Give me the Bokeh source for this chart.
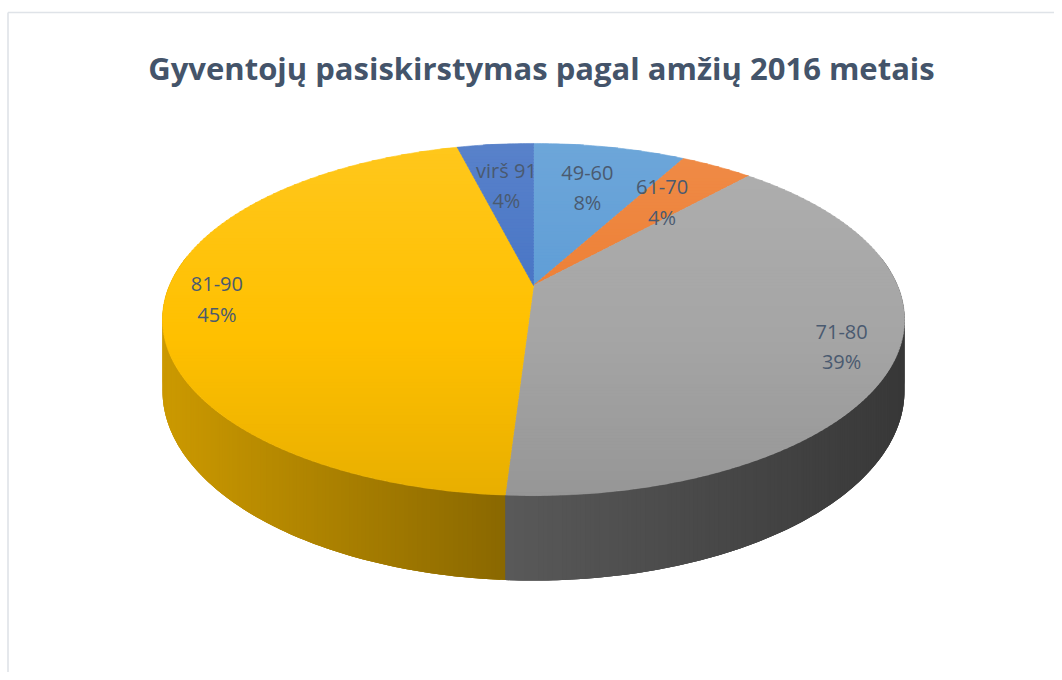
import numpy as np
from bokeh.plotting import figure
from bokeh.models import Range1d, ColumnDataSource, Label
from bokeh.core.properties import value
from bokeh.embed import file_html
from bokeh.resources import INLINE

# ---------------- data ----------------
title_text = "Gyventojų pasiskirstymas pagal amžių 2016 metais"
categories = ["49-60", "61-70", "71-80", "81-90", "virš 91"]
shares = [8.0, 3.8, 39.2, 45.0, 4.0]
base_colors = ["#5B9BD5", "#ED7D31", "#A5A5A5", "#FFC000", "#4472C4"]

# ---------------- layout constants ----------------
W, H = 1054, 672
CX, CY = 533.0, 285.0      # projected pie centre (px)
A, C = -114.4, 0.1932      # perspective terms (depth axis)
S = 364.0                  # horizontal radius scale
DEPTH = 68.6               # pie thickness
FONT = "Open Sans"

def hex2rgb(h):
    h = h.lstrip("#")
    return np.array([int(h[i:i + 2], 16) for i in (0, 2, 4)], dtype=float)

def rgb2hex(c):
    c = np.clip(np.round(c), 0, 255).astype(int)
    return "#%02x%02x%02x" % tuple(c)

def proj(theta, r=1.0):
    u = r * np.sin(theta)
    v = r * np.cos(theta)
    den = 1.0 + C * v
    return CX + S * u / den, (CY + A * v) / den, den

def clip_band(poly, y0, y1):
    def clip(pts, keep, inter):
        out = []
        n = len(pts)
        for i in range(n):
            p1 = pts[i]
            p2 = pts[(i + 1) % n]
            k1, k2 = keep(p1), keep(p2)
            if k1:
                out.append(p1)
                if not k2:
                    out.append(inter(p1, p2))
            elif k2:
                out.append(inter(p1, p2))
        return out

    def inter_y(yy):
        def f(p1, p2):
            t = (yy - p1[1]) / (p2[1] - p1[1])
            return (p1[0] + t * (p2[0] - p1[0]), yy)
        return f

    pts = clip(poly, lambda p: p[1] >= y0, inter_y(y0))
    if not pts:
        return []
    pts = clip(pts, lambda p: p[1] <= y1, inter_y(y1))
    return pts

# ---------------- figure ----------------
p = figure(width=W, height=H, x_range=Range1d(0, W), y_range=Range1d(H, 0),
           output_backend="svg", toolbar_location=None, min_border=0)
p.axis.visible = False
p.grid.visible = False
p.outline_line_color = None
p.background_fill_color = "white"
p.border_fill_color = "white"

# chart border
p.line([7.5, W], [12, 12], line_color="#dfe3e8", line_width=1.6)
p.line([7.5, 7.5], [12, H], line_color="#dfe3e8", line_width=1.6)

fr = np.array(shares) / sum(shares)
starts = np.concatenate([[0], np.cumsum(fr)[:-1]]) * 2 * np.pi
ends = np.cumsum(fr) * 2 * np.pi

# ---------------- side walls ----------------
def wall_shade(x):
    return np.interp(x, [161, 505, 903], [0.80, 0.54, 0.34])

under = dict(xs=[], ys=[], c=[])
wall = dict(xs=[], ys=[], c=[])
for i in range(len(shares)):
    base = hex2rgb(base_colors[i])
    a0, a1 = starts[i], ends[i]
    lo, hi = max(a0, np.radians(80)), min(a1, np.radians(280))
    if hi <= lo:
        continue
    n = max(2, int(np.degrees(hi - lo) / 0.6) + 1)
    ts = np.linspace(lo, hi, n)
    tx, ty, td = proj(ts)
    bx, by = tx, ty + DEPTH / td
    under["xs"].append(list(tx) + list(bx[::-1]))
    under["ys"].append(list(ty) + list(by[::-1]))
    under["c"].append(rgb2hex(base * wall_shade(float(np.mean(tx)))))
    for j in range(n - 1):
        k2 = min(j + 2, n - 1)          # overlap into the next strip to hide seams
        xs = [tx[j], tx[k2], bx[k2], bx[j]]
        ys = [ty[j], ty[k2], by[k2], by[j]]
        wall["xs"].append(xs)
        wall["ys"].append(ys)
        wall["c"].append(rgb2hex(base * wall_shade((tx[j] + tx[j + 1]) / 2)))
p.patches("xs", "ys", source=ColumnDataSource(under), fill_color="c", line_color=None)
p.patches("xs", "ys", source=ColumnDataSource(wall), fill_color="c", line_color=None)

# ---------------- top faces with vertical gradient ----------------
def top_color(base, y):
    L = np.interp(y, [143, 495], [0.11, -0.09])
    if L >= 0:
        return base + (255 - base) * L
    return base * (1 + L)

top = dict(xs=[], ys=[], c=[])
for i in range(len(shares)):
    base = hex2rgb(base_colors[i])
    n = max(3, int(np.degrees(ends[i] - starts[i]) / 0.5) + 1)
    ts = np.linspace(starts[i], ends[i], n)
    ax, ay, _ = proj(ts)
    poly = [(CX, CY)] + list(zip(ax, ay))
    ymin = min(pt[1] for pt in poly)
    ymax = max(pt[1] for pt in poly)
    y = np.floor(ymin) - 1
    step = 3.0
    while y < ymax + 1:
        band = clip_band(poly, y, y + step + 0.6)
        if len(band) >= 3:
            top["xs"].append([pt[0] for pt in band])
            top["ys"].append([pt[1] for pt in band])
            top["c"].append(rgb2hex(top_color(base, y + step / 2)))
        y += step
p.patches("xs", "ys", source=ColumnDataSource(top), fill_color="c", line_color="c", line_width=0.6)

# ---------------- data labels ----------------
mids = (starts + ends) / 2
lx, ly1, ly2, l1, l2 = [], [], [], [], []
for i in range(len(shares)):
    r = 0.67 if shares[i] < 10 else 0.86
    x, y, _ = proj(mids[i], r)
    lx.append(x)
    ly1.append(y - 15)
    ly2.append(y + 15)
    l1.append(categories[i])
    l2.append("%d%%" % round(shares[i]))
for ys, txt in ((ly1, l1), (ly2, l2)):
    p.text(lx, ys, text=txt, text_align="center", text_baseline="middle",
           text_font=value(FONT), text_font_size="20px", text_color="#4a5a70")

# ---------------- title ----------------
p.add_layout(Label(x=541, y=67, text=title_text, text_align="center", text_baseline="alphabetic",
                   text_font=FONT, text_font_style="bold", text_font_size="31px",
                   text_color="#44546A"))

open("out.html", "w").write(file_html(p, INLINE))
